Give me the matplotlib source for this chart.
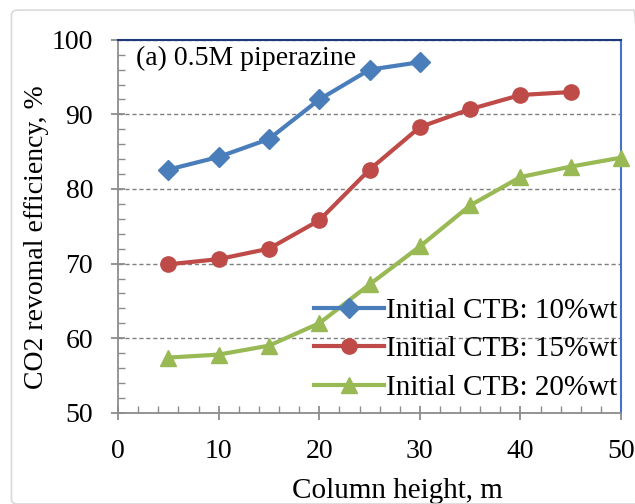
import matplotlib.pyplot as plt
from matplotlib.patches import FancyBboxPatch
from matplotlib.ticker import MultipleLocator

# column height (m) and CO2 removal efficiency (%) for each initial CTB loading
height_10 = [5, 10, 15, 20, 25, 30]
eff_10 = [82.6, 84.3, 86.7, 92.0, 96.0, 97.0]

height_15 = [5, 10, 15, 20, 25, 30, 35, 40, 45]
eff_15 = [69.9, 70.6, 72.0, 75.8, 82.6, 88.3, 90.7, 92.6, 93.0]

height_20 = [5, 10, 15, 20, 25, 30, 35, 40, 45, 50]
eff_20 = [57.4, 57.8, 59.0, 62.0, 67.2, 72.3, 77.8, 81.6, 83.0, 84.2]

labels = ['Initial CTB: 10%wt', 'Initial CTB: 15%wt', 'Initial CTB: 20%wt']

plt.rcParams['font.family'] = ['Liberation Serif', 'DejaVu Serif']

fig = plt.figure(figsize=(6.35, 5.04), dpi=100)
fig.patches.append(FancyBboxPatch((0.018, 0.0), 0.99, 0.98, boxstyle='round,pad=0,rounding_size=0.01',
                                  transform=fig.transFigure, facecolor='none',
                                  edgecolor='#d9d9d9', linewidth=1.2))
ax = fig.add_axes([0.186, 0.181, 0.792, 0.740])

ax.plot(height_10, eff_10, color='#4A7EBB', lw=3, marker='D', ms=10, label=labels[0], zorder=3)
ax.plot(height_15, eff_15, color='#BE4B48', lw=3, marker='o', ms=11, label=labels[1], zorder=3)
ax.plot(height_20, eff_20, color='#98B954', lw=3, marker='^', ms=12, label=labels[2], zorder=3,
        clip_on=False)

ax.set_xlim(0, 50)
ax.set_ylim(50, 100)
ax.xaxis.set_major_locator(MultipleLocator(10))
ax.xaxis.set_minor_locator(MultipleLocator(2))
ax.yaxis.set_major_locator(MultipleLocator(10))
ax.yaxis.set_minor_locator(MultipleLocator(2))

ax.grid(axis='y', which='major', color='#7f7f7f', linestyle=(0, (3, 2)), linewidth=1)
ax.set_axisbelow(True)

for side in ['left', 'bottom']:
    ax.spines[side].set_color('#8c8c8c')
    ax.spines[side].set_linewidth(1.3)
ax.spines['right'].set_color('#4472C4')
ax.spines['right'].set_linewidth(1.5)
ax.spines['top'].set_color('#1f3a7a')
ax.spines['top'].set_linestyle((0, (3, 1)))
ax.spines['top'].set_linewidth(1.5)

ax.tick_params(which='major', direction='inout', length=10, width=1.3, color='#8c8c8c',
               labelsize=20)
ax.tick_params(which='minor', direction='in', length=5, width=1, color='#8c8c8c')
ax.tick_params(axis='y', which='major', pad=13)
ax.tick_params(axis='x', which='major', pad=14)

ax.set_xlabel('Column height, m', fontsize=21)
ax.xaxis.set_label_coords(0.555, -0.175)
ax.set_ylabel('CO2 revomal efficiency, %', fontsize=20, va='center')
ax.yaxis.set_label_coords(-0.162, 0.47)

ax.text(0.036, 0.985, '(a) 0.5M piperazine', transform=ax.transAxes, fontsize=20,
        va='top', ha='left')

ax.legend(loc='lower right', bbox_to_anchor=(1.015, 0.0), frameon=False, fontsize=21,
          handlelength=2.4, handletextpad=0.05, labelspacing=0.42, borderaxespad=0)

fig.savefig('out.png', dpi=100)
